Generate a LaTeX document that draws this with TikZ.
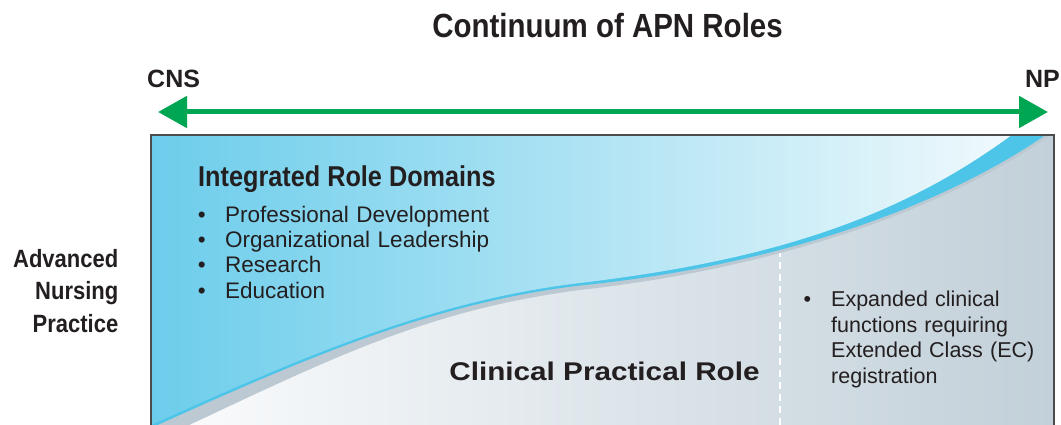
\documentclass[tikz,border=0pt]{standalone}
\usepackage{fontspec}
\setmainfont{Liberation Sans}
\newfontfamily\condfont[FakeStretch=0.88]{Liberation Sans}
\newfontfamily\widefont[FakeStretch=1.16]{Liberation Sans}
\usetikzlibrary{arrows.meta}

\definecolor{apngreen}{HTML}{00A651}
\definecolor{skyleft}{HTML}{6CCDEB}
\definecolor{skymid}{HTML}{AEE0F3}
\definecolor{skyright}{HTML}{F0F9FC}
\definecolor{bandblue}{HTML}{4DC5E8}
\definecolor{shadowgray}{HTML}{BCC9D2}
\definecolor{mistleft}{HTML}{FBFCFD}
\definecolor{mistmid}{HTML}{E0E7EC}
\definecolor{mistright}{HTML}{C2D0D9}
\definecolor{inkdark}{HTML}{231F20}

\begin{document}
\begin{tikzpicture}[x=1pt,y=-1pt,>={Triangle[length=29pt,width=31pt]},
                    inner sep=0pt,text=inkdark,node distance=25.3pt]
  \tikzstyle{heading}=[font=\condfont\bfseries\fontsize{33.5}{40}\selectfont]
  \tikzstyle{endlabel}=[font=\bfseries\fontsize{25}{30}\selectfont]
  \tikzstyle{sidelabel}=[font=\condfont\bfseries\fontsize{25}{30}\selectfont,
                         text height=18pt,text depth=6pt,text width=110pt,align=right]
  \tikzstyle{domainitem}=[font=\fontsize{22.5}{27}\selectfont,
                      text height=16pt,text depth=5pt,text width=300pt,align=left]
  \tikzstyle{ecitem}=[font=\fontsize{21.5}{26}\selectfont,
                     text height=16pt,text depth=5pt,text width=240pt,align=left]
  \tikzstyle{continuum}=[<->,draw=apngreen,fill=apngreen,line width=5pt]
  \tikzstyle{divider}=[draw=white,line width=1.8pt,dash pattern=on 7pt off 5pt]

  \useasboundingbox (0,0) rectangle (1061,425);

  % the role box
  \begin{scope}
    \clip (151,135) rectangle (1054,440);
    \shade[left color=mistleft,middle color=mistmid,right color=mistright]
      (151,135) rectangle (1054,440);
    \coordinate (divtop) at (780,250);
    \coordinate (divbot) at (780,430);
    \draw[divider] (divtop) -- (divbot);
    \fill[shadowgray] (151,440) -- (185,427) .. controls (335,356.5) and (430,309.5)
      .. (580,290) .. controls (770,269) and (942,212) .. (1052,134)
      -- (151,134) -- cycle;
    \fill[bandblue] (151,440) -- (151,428) .. controls (301,360) and (430,303.5)
      .. (580,285.5) .. controls (770,266.5) and (937,210) .. (1047,134)
      -- (151,134) -- cycle;
    \shade[left color=skyleft,middle color=skymid,right color=skyright]
      (151,440) -- (151,425) .. controls (301,357.5) and (430,301)
      .. (580,283) .. controls (760,261.4) and (893,222.8) .. (1013,134)
      -- (151,134) -- cycle;
  \end{scope}
  \draw[draw=black!70,line width=1.3pt] (151,135) rectangle (1054,450);

  \node (title) at (607.5,37.3) [heading,anchor=base] {Continuum of APN Roles};
  \node (cns)   at (147,88)     [endlabel,anchor=base west] {CNS};
  \node (np)    at (1060,88)    [endlabel,anchor=base east] {NP};
  \coordinate (cnstip) at (158,112);
  \coordinate (nptip)  at (1048,112);
  \draw[continuum] (cnstip) -- (nptip);

  \node (adv1) at (118.5,267) [sidelabel,anchor=base east] {Advanced};
  \node (adv2) [sidelabel,below of=adv1,node distance=32.8pt] {Nursing};
  \node (adv3) [sidelabel,below of=adv2,node distance=32.8pt] {Practice};

  \node (domains) at (198,186.7) [anchor=base west,
    font=\condfont\bfseries\fontsize{28.7}{34}\selectfont] {Integrated Role Domains};
  \node (dom1) at (197.6,222.3) [domainitem,anchor=base west]
    {\makebox[27.4pt][l]{\textbullet}Professional Development};
  \node (dom2) [domainitem,below of=dom1] {\makebox[27.4pt][l]{\textbullet}Organizational Leadership};
  \node (dom3) [domainitem,below of=dom2] {\makebox[27.4pt][l]{\textbullet}Research};
  \node (dom4) [domainitem,below of=dom3] {\makebox[27.4pt][l]{\textbullet}Education};

  \node (clinical) at (604.5,380) [anchor=base,
    font=\widefont\bfseries\fontsize{25.6}{30}\selectfont] {Clinical Practical Role};

  \node (ec1) at (803.3,306.7) [ecitem,anchor=base west]
    {\makebox[27.7pt][l]{\textbullet}Expanded clinical};
  \node (ec2) [ecitem,below of=ec1,node distance=25.5pt] {\hspace*{27.7pt}functions requiring};
  \node (ec3) [ecitem,below of=ec2,node distance=25.5pt] {\hspace*{27.7pt}Extended Class (EC)};
  \node (ec4) [ecitem,below of=ec3,node distance=25.5pt] {\hspace*{27.7pt}registration};
\end{tikzpicture}
\end{document}
